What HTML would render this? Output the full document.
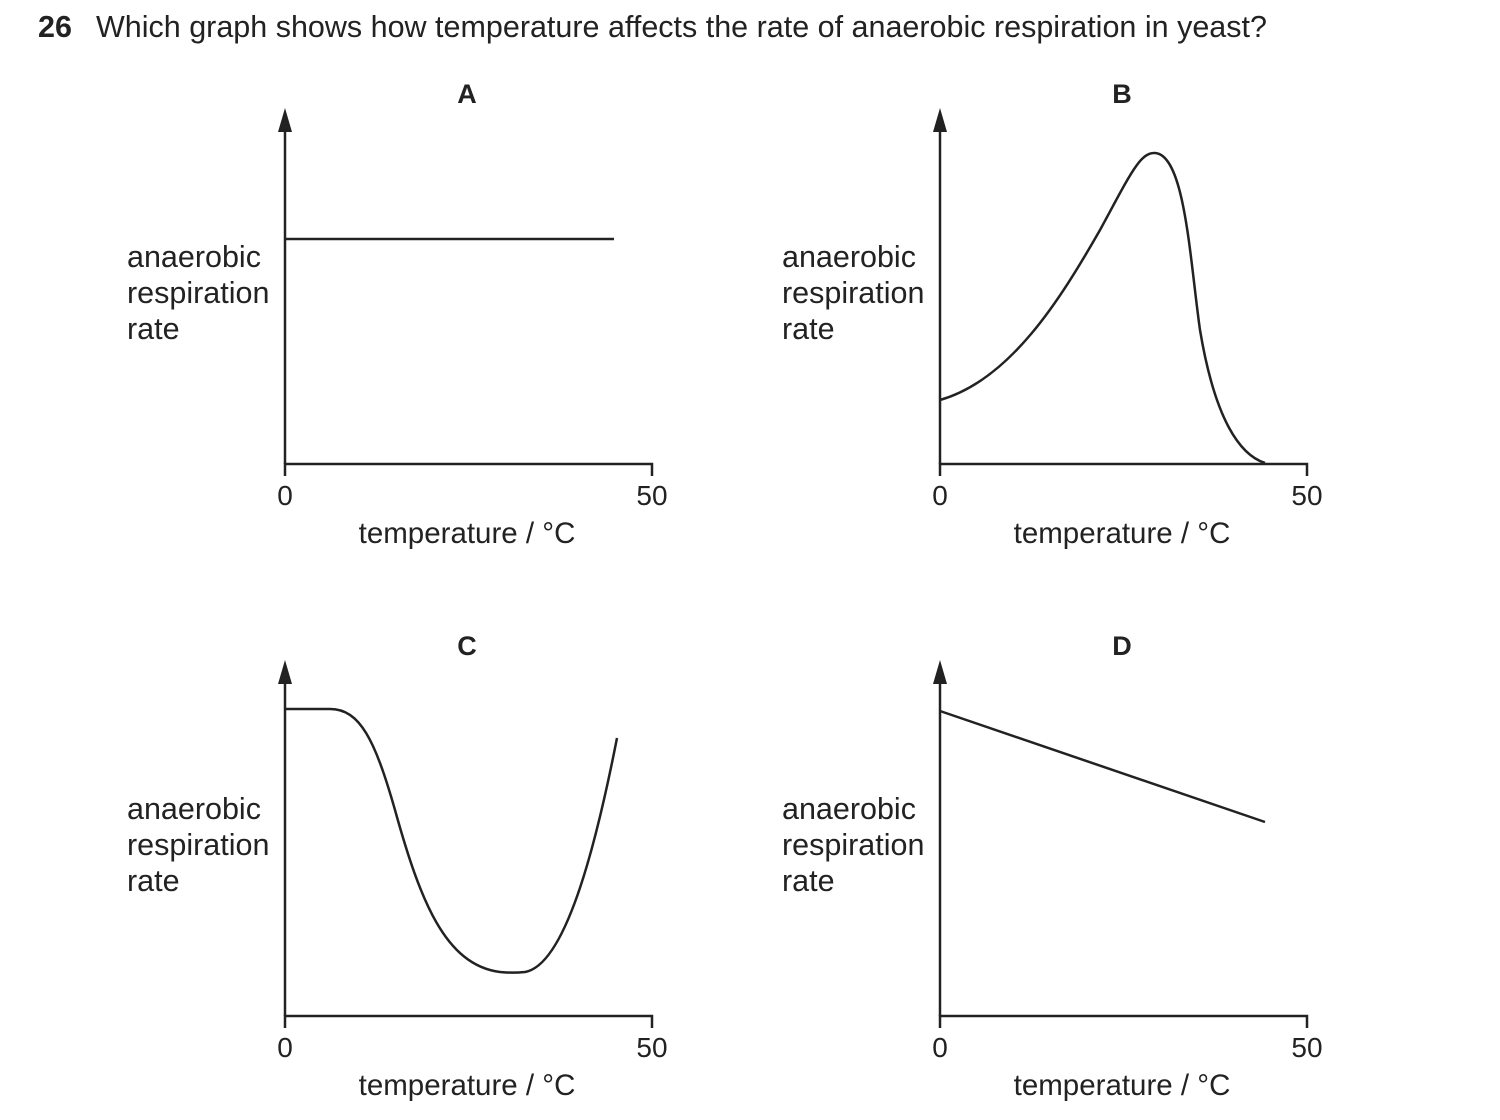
<!DOCTYPE html>
<html><head><meta charset="utf-8"><style>
body{margin:0;background:#fff;}
svg{display:block}
text{font-family:"Liberation Sans",Arial,sans-serif;fill:#222;}
</style></head><body>
<svg width="1500" height="1120" viewBox="0 0 1500 1120">
<text x="38" y="37" font-size="30.5" font-weight="bold">26</text>
<text x="96" y="37" font-size="30.5">Which graph shows how temperature affects the rate of anaerobic respiration in yeast?</text>
<defs>
<g id="ax">
<line x1="285" y1="125" x2="285" y2="464" stroke="#222" stroke-width="2.5"/>
<polygon points="285,108 278,132 292,132" fill="#222"/>
<polyline points="285,476 285,464 652,464 652,476" fill="none" stroke="#222" stroke-width="2.5"/>
<text x="285" y="505" font-size="28" text-anchor="middle">0</text>
<text x="652" y="505" font-size="28" text-anchor="middle">50</text>
<text x="467" y="543" font-size="29.5" text-anchor="middle">temperature / °C</text>
<text x="127" y="267" font-size="30.5">anaerobic</text>
<text x="127" y="303" font-size="30.5">respiration</text>
<text x="127" y="339" font-size="30.5">rate</text>
</g>
</defs>
<use href="#ax"/>
<use href="#ax" transform="translate(655,0)"/>
<use href="#ax" transform="translate(0,552)"/>
<use href="#ax" transform="translate(655,552)"/>
<g font-size="27" font-weight="bold" text-anchor="middle">
<text x="467" y="103">A</text><text x="1122" y="103">B</text>
<text x="467" y="655">C</text><text x="1122" y="655">D</text>
</g>
<g fill="none" stroke="#222" stroke-width="2.5">
<line x1="285" y1="239" x2="614" y2="239"/>
<path d="M940,400 C1010,380 1060,300 1100,230 C1130,175 1140,152 1155,153 C1185,155 1190,260 1200,330 C1215,420 1240,455 1265,463"/>
<path d="M285,709 L330,709 C360,709 375,740 395,810 C420,900 445,965 500,972 C510,973 515,973 525,972 C565,965 595,850 617,738"/>
<line x1="940" y1="711" x2="1265" y2="822"/>
</g>
</svg>
</body></html>
